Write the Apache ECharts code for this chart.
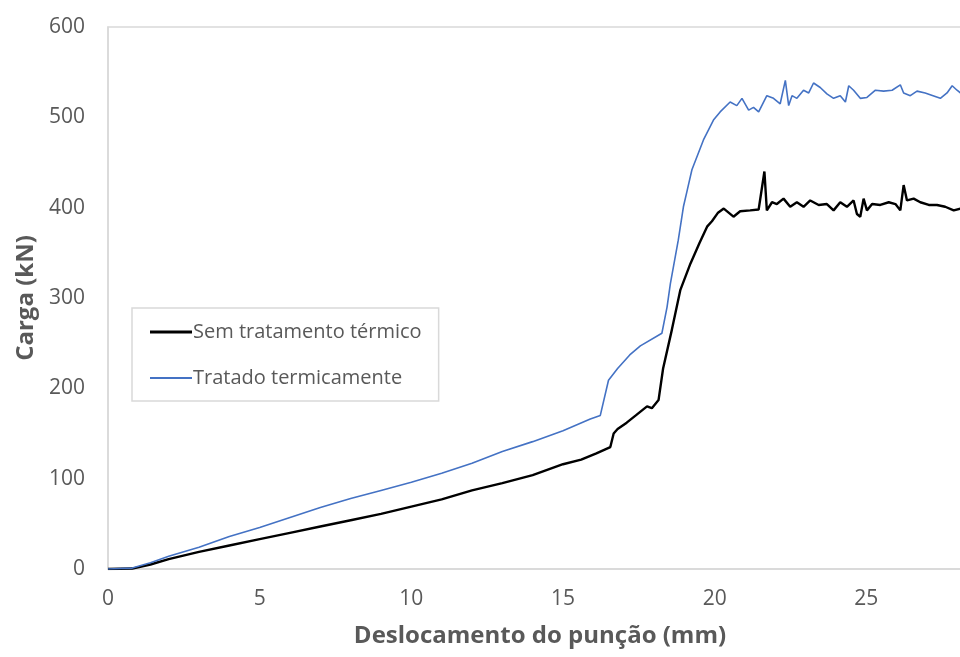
<!DOCTYPE html>
<html>
<head>
<meta charset="utf-8">
<script src="https://cdn.jsdelivr.net/npm/echarts@6/dist/echarts.min.js"></script>
<style>
html, body { margin: 0; padding: 0; background: #fff; }
#chart { width: 960px; height: 657px; }
</style>
</head>
<body>
<div id="chart"></div>
<script>
// Sem tratamento térmico (mm, kN)
var semX = [0, 0.8, 1.4, 2, 3, 4, 5, 6, 7, 8, 9, 10, 11, 12, 13, 14, 15, 15.6, 16.1, 16.56, 16.67, 16.8, 17.1, 17.4, 17.77, 17.93, 18.15, 18.3, 18.59, 18.87, 19.2, 19.5, 19.75, 19.91, 20.1, 20.3, 20.62, 20.84, 21.17, 21.45, 21.64, 21.72, 21.89, 22.05, 22.27, 22.49, 22.71, 22.93, 23.15, 23.43, 23.7, 23.92, 24.14, 24.36, 24.58, 24.69, 24.8, 24.91, 25.02, 25.19, 25.46, 25.74, 25.96, 26.12, 26.23, 26.34, 26.56, 26.78, 27.06, 27.33, 27.6, 27.88, 28.1, 28.4];
var semY = [0, 0.5, 5, 11, 19, 26, 33, 40, 47, 54, 61, 69, 77, 87, 95, 104, 116, 121, 128, 135, 150, 155, 162, 170, 180, 178, 187, 222, 265, 309, 338, 361, 379, 385, 394, 399, 390, 396, 397, 398, 440, 397, 406, 404, 410, 401, 406, 401, 408, 403, 404, 397, 406, 401, 408, 393, 390, 410, 397, 404, 403, 406, 404, 397, 425, 408, 410, 406, 403, 403, 401, 397, 399, 398];

// Tratado termicamente (mm, kN)
var tratX = [0, 0.8, 1.4, 2, 3, 4, 5, 6, 7, 8, 9, 10, 11, 12, 13, 14, 15, 15.9, 16.23, 16.5, 16.8, 17.2, 17.55, 18.26, 18.43, 18.54, 18.8, 18.97, 19.1, 19.25, 19.63, 19.96, 20.18, 20.51, 20.73, 20.9, 21.12, 21.28, 21.45, 21.72, 21.94, 22.16, 22.33, 22.44, 22.55, 22.71, 22.93, 23.1, 23.26, 23.48, 23.7, 23.92, 24.14, 24.31, 24.42, 24.58, 24.8, 25.02, 25.3, 25.57, 25.85, 26.12, 26.23, 26.45, 26.67, 26.94, 27.2, 27.44, 27.66, 27.83, 27.99, 28.1, 28.4];
var tratY = [0, 1, 7, 14, 24, 36, 46, 57, 68, 78, 87, 96, 106, 117, 130, 141, 153, 166, 170, 209, 222, 237, 247, 261, 290, 316, 364, 401, 420, 442, 475, 497, 506, 517, 513, 521, 508, 511, 506, 524, 521, 515, 541, 513, 524, 521, 530, 527, 538, 533, 526, 521, 524, 517, 535, 530, 521, 522, 530, 529, 530, 536, 527, 524, 529, 527, 524, 521, 527, 535, 530, 527, 525];

var seriesNames = ['Sem tratamento térmico', 'Tratado termicamente'];

function pairs(xs, ys) {
    return xs.map(function (x, i) { return [x, ys[i]]; });
}

var txt = '#595959';
var chart = echarts.init(document.getElementById('chart'));
chart.setOption({
    animation: false,
    textStyle: { fontFamily: 'Open Sans' },
    grid: {
        left: 108, top: 27, width: 910, height: 542,
        outerBoundsMode: 'none', containLabel: false,
        show: true, borderColor: '#d9d9d9', borderWidth: 1.5
    },
    legend: {
        left: 132, top: 308,
        orient: 'vertical',
        data: [
            { name: seriesNames[0], icon: 'path://M0,0 L42,0 L42,3 L0,3 Z' },
            { name: seriesNames[1], icon: 'path://M0,0 L42,0 L42,2 L0,2 Z' }
        ],
        itemWidth: 42, itemHeight: 14,
        itemGap: 26,
        padding: [14, 17, 13, 18],
        borderColor: '#d9d9d9', borderWidth: 1.5,
        textStyle: { color: txt, fontSize: 20, padding: [0, 0, 0, -4] }
    },
    xAxis: {
        type: 'value', min: 0, max: 30, interval: 5,
        name: 'Deslocamento do punção (mm)',
        nameLocation: 'middle', nameGap: 55,
        nameTextStyle: { color: txt, fontSize: 24, fontWeight: 'bold', padding: [0, 46, 0, 0] },
        axisLine: { show: true, lineStyle: { color: '#d9d9d9', width: 1.5 } },
        axisTick: { show: false },
        splitLine: { show: false },
        axisLabel: { color: txt, fontSize: 21, margin: 20 }
    },
    yAxis: {
        type: 'value', min: 0, max: 600, interval: 100,
        name: 'Carga (kN)',
        nameLocation: 'middle', nameGap: 70,
        nameTextStyle: { color: txt, fontSize: 24, fontWeight: 'bold' },
        axisLine: { show: true, lineStyle: { color: '#d9d9d9', width: 1.5 } },
        axisTick: { show: false },
        splitLine: { show: false },
        axisLabel: { color: txt, fontSize: 21, margin: 23 }
    },
    series: [
        {
            name: seriesNames[0], type: 'line', symbol: 'none',
            data: pairs(semX, semY),
            itemStyle: { color: '#000000' },
            lineStyle: { color: '#000000', width: 2.4 }
        },
        {
            name: seriesNames[1], type: 'line', symbol: 'none',
            data: pairs(tratX, tratY),
            itemStyle: { color: '#4472c4' },
            lineStyle: { color: '#4472c4', width: 1.6 }
        }
    ]
});
</script>
</body>
</html>
